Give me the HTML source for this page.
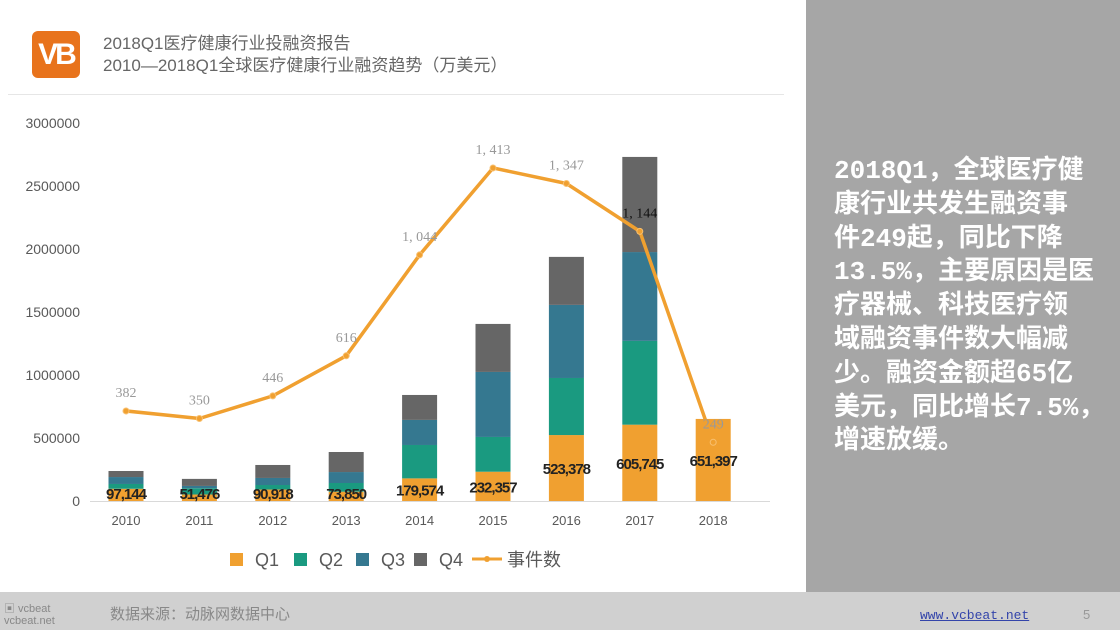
<!DOCTYPE html>
<html><head><meta charset="utf-8"><style>
body{margin:0;width:1120px;height:630px;position:relative;background:#fff;overflow:hidden;font-family:"Liberation Sans","Noto Sans CJK SC",sans-serif}
.abs{position:absolute}
</style></head><body>
<div class="abs" style="left:32px;top:31px;width:48px;height:47px;background:#e8731c;border-radius:6px;color:#fff;font:bold 30px 'Liberation Sans',sans-serif;text-align:center;line-height:47px;letter-spacing:-3px">VB</div>
<div class="abs" style="left:103px;top:33px;font-size:17px;color:#666;line-height:22px">2018Q1医疗健康行业投融资报告<br>2010—2018Q1全球医疗健康行业融资趋势（万美元）</div>
<div class="abs" style="left:8px;top:94px;width:776px;height:1px;background:#e6e6e6"></div>
<div class="abs" style="left:806px;top:0;width:314px;height:592px;background:#a6a6a6"></div>
<div class="abs" style="left:834px;top:155px;color:#fff;font-weight:bold;font-size:26px;line-height:33.8px;font-family:'Liberation Mono','Noto Sans CJK SC',monospace;white-space:nowrap">2018Q1，全球医疗健<br>康行业共发生融资事<br>件249起，同比下降<br>13.5%，主要原因是医<br>疗器械、科技医疗领<br>域融资事件数大幅减<br>少。融资金额超65亿<br>美元，同比增长7.5%，<br>增速放缓。</div>
<div class="abs" style="left:0;top:592px;width:1120px;height:38px;background:#d0d0d0"></div>
<div class="abs" style="left:4px;top:603px;font-size:11px;color:#888;line-height:12px">▣ vcbeat<br>vcbeat.net</div>
<div class="abs" style="left:110px;top:603px;font-size:15px;color:#888">数据来源：动脉网数据中心</div>
<div class="abs" style="left:920px;top:608px;font-size:13px;color:#3344aa;text-decoration:underline;font-family:'Liberation Mono',monospace">www.vcbeat.net</div>
<div class="abs" style="left:1083px;top:607px;font-size:13px;color:#999">5</div>
<svg class="abs" style="left:0;top:0" width="806" height="592" id="chart"></svg>
<script>
const years=["2010","2011","2012","2013","2014","2015","2016","2017","2018"];
const q1=[97144,51476,90918,73850,179574,232357,523378,605745,651397];
const q2=[38000,50000,36000,69000,265000,276000,453000,665000,0];
const q3=[55000,18000,56000,87000,199000,516000,580000,705000,0];
const q4=[48000,56000,103000,159000,198000,381000,381000,755000,0];
const events=[382,350,446,616,1044,1413,1347,1144,249];
const q1Labels=["97,144","51,476","90,918","73,850","179,574","232,357","523,378","605,745","651,397"];
const eventLabels=["382","350","446","616","1, 044","1, 413","1, 347","1, 144","249"];
const yTicks=[0,500000,1000000,1500000,2000000,2500000,3000000];
const colors=["#f0a030","#1a9a80","#357890","#666666"];
const NS="http://www.w3.org/2000/svg",svg=document.getElementById('chart');
const y=v=>501-v*126/1000000;
const ye=v=>501-v*0.2357;
const x=i=>126+i*73.4;
function mk(t,a,txt){const e=document.createElementNS(NS,t);for(const k in a)e.setAttribute(k,a[k]);if(txt!=null)e.textContent=txt;svg.appendChild(e);return e;}
yTicks.forEach(v=>{const t=mk('text',{x:80,y:y(v)+5,'text-anchor':'end','font-size':14,fill:'#595959'},String(v));

});
const ax=mk('line',{x1:90,x2:770,y1:501.5,y2:501.5,stroke:'#d9d9d9'});


const series=[q1,q2,q3,q4];
years.forEach((yr,i)=>{let base=0;
series.forEach((s,k)=>{if(!s[i])return;const r=mk('rect',{x:x(i)-17.5,width:35,y:y(base+s[i]),height:y(base)-y(base+s[i]),fill:colors[k]});

base+=s[i];});
const t=mk('text',{x:x(i),y:525,'text-anchor':'middle','font-size':13,fill:'#595959'},yr);


const ly=Math.min((y(0)+y(q1[i]))/2+6,499);
const l=mk('text',{x:x(i),y:ly,'text-anchor':'middle','font-size':15,'font-weight':'bold',fill:'#222','font-family':'Liberation Sans Narrow,Liberation Sans,sans-serif','letter-spacing':'-1'},q1Labels[i]);

});
const pts=events.map((v,i)=>x(i)+','+ye(v)).join(' ');
const pl=mk('polyline',{points:pts,fill:'none',stroke:'#f0a030','stroke-width':3.5,'stroke-linejoin':'round'});


events.forEach((v,i)=>{const c=mk('circle',{cx:x(i),cy:ye(v),r:3,fill:'#f0a030',stroke:'#f8c070'});


const t=mk('text',{x:x(i),y:ye(v)-14,'text-anchor':'middle','font-size':14,fill:i==7?'#111':'#999','font-family':'Liberation Serif,serif'},eventLabels[i]);

});
const leg=[["Q1",230],["Q2",294],["Q3",356],["Q4",414]];
leg.forEach((l,k)=>{const r=mk('rect',{x:l[1],y:553,width:13,height:13,fill:colors[k]});


const t=mk('text',{x:l[1]+25,y:566,'font-size':18,fill:'#595959'},l[0]);

});
const ll=mk('line',{x1:472,x2:502,y1:559,y2:559,stroke:'#f0a030','stroke-width':3});


const lc=mk('circle',{cx:487,cy:559,r:3,fill:'#f0a030'});


const lt=mk('text',{x:507,y:566,'font-size':18,fill:'#595959'},'事件数');


</script>
</body></html>
